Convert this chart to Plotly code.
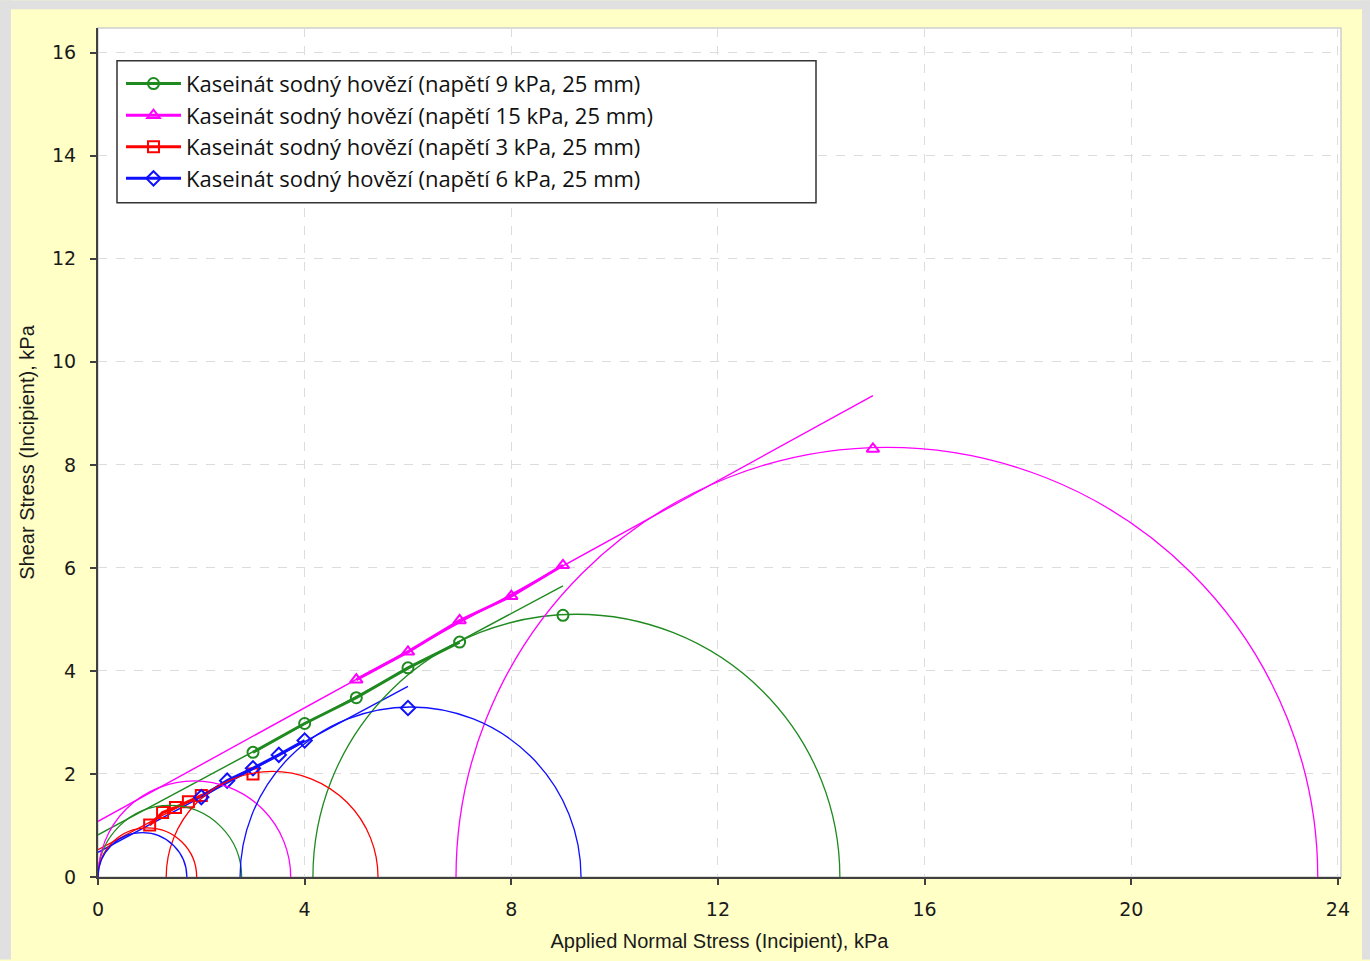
import plotly.graph_objects as go

# ---------------- data ----------------
series_names = [
    "Kaseinát sodný hovězí (napětí 9 kPa, 25 mm)",
    "Kaseinát sodný hovězí (napětí 15 kPa, 25 mm)",
    "Kaseinát sodný hovězí (napětí 3 kPa, 25 mm)",
    "Kaseinát sodný hovězí (napětí 6 kPa, 25 mm)",
]
colors = ["#1f8a1f", "#ff00ff", "#ff0000", "#1010ff"]
symbols = ["circle-open", "triangle-up-open", "square-open", "diamond-open"]

# measured shear points (normal stress, shear stress)
green_x = [3, 4, 5, 6, 7]
green_y = [2.42, 2.98, 3.48, 4.06, 4.56]
magenta_x = [5, 6, 7, 8, 9]
magenta_y = [3.83, 4.37, 4.98, 5.45, 6.05]
red_x = [1.0, 1.25, 1.5, 1.75, 2.0]
red_y = [1.01, 1.25, 1.35, 1.46, 1.58]
blue_x = [2.0, 2.5, 3.0, 3.5, 4.0]
blue_y = [1.55, 1.87, 2.11, 2.37, 2.65]

# pre-shear (consolidation) points
peak_x = [9.0, 15.0, 3.0, 6.0]
peak_y = [5.08, 8.31, 2.0, 3.28]

# yield locus (failure envelope) lines: intercept, slope, end x
locus_intercept = [0.82, 1.08, 0.53, 0.48]
locus_slope = [0.537, 0.551, 0.532, 0.537]
locus_end_x = [9.0, 15.0, 3.0, 6.0]

# Mohr circles: unconfined (small) and major consolidation (big)
small_center = [1.39, 1.865, 0.955, 0.86]
small_radius = [1.39, 1.865, 0.955, 0.86]
big_center = [9.26, 15.27, 3.37, 6.05]
big_radius = [5.10, 8.34, 2.05, 3.30]

x_ticks = [0, 4, 8, 12, 16, 20, 24]
y_ticks = [0, 2, 4, 6, 8, 10, 12, 14, 16]

pts_x = [green_x, magenta_x, red_x, blue_x]
pts_y = [green_y, magenta_y, red_y, blue_y]

# ---------------- figure ----------------
fig = go.Figure()

W, H = 1370, 961
L, R, T, B = 98, 1341, 28, 883
pw, ph = R - L, B - T


def px(xp):
    return (xp - L) / pw


def py(yp):
    return (B - yp) / ph


shapes = []
# Mohr circles
for i in range(4):
    for c, r in ((small_center[i], small_radius[i]), (big_center[i], big_radius[i])):
        shapes.append(dict(type="circle", xref="x", yref="y",
                           x0=c - r, x1=c + r, y0=-r, y1=r,
                           line=dict(color=colors[i], width=1.3), layer="above"))

# thin yield-locus lines
for i in range(4):
    a, m, xe = locus_intercept[i], locus_slope[i], locus_end_x[i]
    fig.add_trace(go.Scatter(x=[0, xe], y=[a, a + m * xe], mode="lines",
                             line=dict(color=colors[i], width=1.4),
                             showlegend=False, hoverinfo="skip",
                             legendgroup=str(i)))

# thick measured lines with markers
for i in range(4):
    fig.add_trace(go.Scatter(x=pts_x[i], y=pts_y[i], mode="lines+markers",
                             name=series_names[i], legendgroup=str(i),
                             line=dict(color=colors[i], width=3),
                             marker=dict(symbol=symbols[i], size=11,
                                         color=colors[i],
                                         line=dict(color=colors[i], width=2))))
    fig.add_trace(go.Scatter(x=[peak_x[i]], y=[peak_y[i]], mode="markers",
                             showlegend=False, legendgroup=str(i),
                             marker=dict(symbol=symbols[i], size=11,
                                         color=colors[i],
                                         line=dict(color=colors[i], width=2))))

# outer grey frame of the screenshot
grey = "#e0e0e0"
shapes.append(dict(type="rect", xref="paper", yref="paper",
                   x0=px(0), x1=px(11), y0=py(H + 5), y1=py(0),
                   fillcolor=grey, line=dict(width=0), layer="below"))
shapes.append(dict(type="rect", xref="paper", yref="paper",
                   x0=px(0), x1=px(W), y0=py(9), y1=py(0),
                   fillcolor=grey, line=dict(width=0), layer="below"))
shapes.append(dict(type="rect", xref="paper", yref="paper",
                   x0=px(1362), x1=px(W), y0=py(H + 5), y1=py(0),
                   fillcolor=grey, line=dict(width=0), layer="below"))
# light plot-area border (top/right)
shapes.append(dict(type="rect", xref="paper", yref="paper",
                   x0=0, x1=1, y0=0, y1=1,
                   line=dict(color="#cfcfcf", width=1.5), layer="below"))
# legend box
shapes.append(dict(type="rect", xref="paper", yref="paper",
                   x0=px(117), x1=px(816), y0=py(204), y1=py(61),
                   fillcolor="white", line=dict(color="#333333", width=1.5),
                   layer="above"))

fig.update_layout(
    width=W, height=H,
    margin=dict(l=L, r=W - R, t=T, b=H - B, pad=0),
    paper_bgcolor="#ffffc6",
    plot_bgcolor="white",
    shapes=shapes,
    showlegend=True,
    legend=dict(x=px(121), y=py(63), xanchor="left", yanchor="top",
                bgcolor="rgba(0,0,0,0)", borderwidth=0,
                font=dict(family="Open Sans", size=22, color="#111111"),
                itemwidth=55,
                tracegroupgap=0, traceorder="grouped"),
    xaxis=dict(range=[0, 24.06], tickvals=x_ticks, ticktext=[str(v) for v in x_ticks],
               showgrid=True, gridcolor="#dcdcdc", griddash="dash", gridwidth=1,
               zeroline=False, showline=True, linecolor="#404040", linewidth=2,
               ticks="outside", ticklen=6, tickwidth=1.5, tickcolor="#404040",
               ticklabelstandoff=8,
               tickfont=dict(family="DejaVu Sans", size=19, color="#1a1a1a"),
               title=dict(text="Applied Normal Stress (Incipient), kPa",
                          font=dict(family="Liberation Sans", size=20, color="#1a1a1a"),
                          standoff=15)),
    yaxis=dict(range=[0, 16.48], tickvals=y_ticks, ticktext=[str(v) for v in y_ticks],
               showgrid=True, gridcolor="#dcdcdc", griddash="dash", gridwidth=1,
               zeroline=False, showline=True, linecolor="#404040", linewidth=2,
               ticks="outside", ticklen=6, tickwidth=1.5, tickcolor="#404040",
               ticklabelstandoff=10,
               tickfont=dict(family="DejaVu Sans", size=19, color="#1a1a1a"),
               title=dict(text="Shear Stress (Incipient), kPa",
                          font=dict(family="Liberation Sans", size=20, color="#1a1a1a"),
                          standoff=12)),
)

fig.write_html("out.html", config={"displayModeBar": False},
               post_script="document.body.style.margin='0';document.body.style.overflow='hidden';")
